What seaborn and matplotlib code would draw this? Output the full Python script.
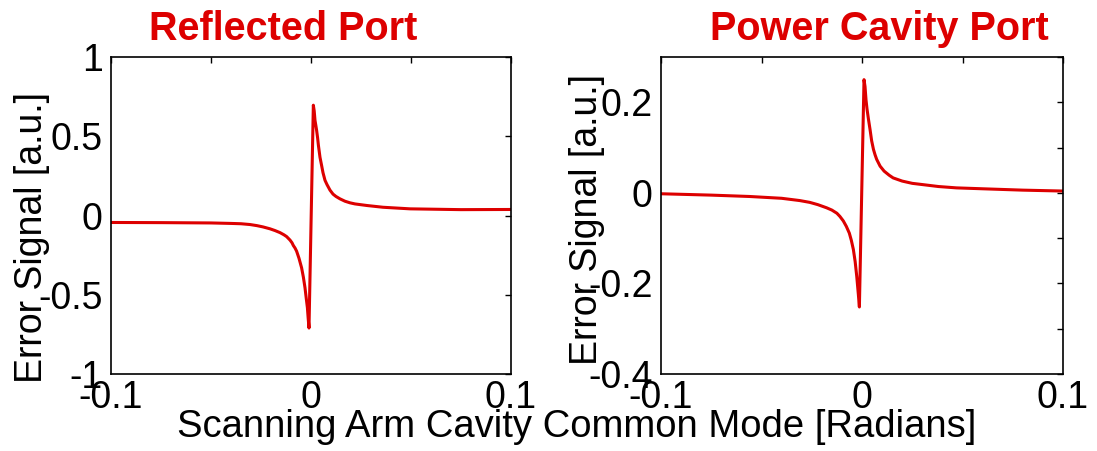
import matplotlib
matplotlib.use("Agg")
import matplotlib.pyplot as plt
import seaborn as sns
import pandas as pd

# ---- data ----
refl_x = [-0.1, -0.075, -0.05, -0.04, -0.035, -0.0305, -0.027, -0.024, -0.0205, -0.018,
          -0.0155, -0.0135, -0.0122, -0.0105, -0.0095, -0.0088, -0.008, -0.0072, -0.006,
          -0.0047, -0.0038, -0.003, -0.0024, -0.0018, -0.0014, -0.001,
          0.00117, 0.0016, 0.002, 0.0024, 0.0028, 0.0033, 0.0037, 0.0045, 0.0053, 0.006,
          0.007, 0.008, 0.0095, 0.011, 0.0125, 0.0145, 0.017, 0.0195, 0.022, 0.028,
          0.036, 0.0495, 0.075, 0.1]
refl_y = [-0.044, -0.045, -0.047, -0.05, -0.052, -0.057, -0.064, -0.072, -0.084, -0.095,
          -0.108, -0.122, -0.133, -0.155, -0.172, -0.19, -0.205, -0.225, -0.27,
          -0.33, -0.39, -0.456, -0.52, -0.582, -0.65, -0.71,
          0.696, 0.66, 0.60, 0.57, 0.538, 0.49, 0.443, 0.367, 0.316, 0.27,
          0.222, 0.195, 0.16, 0.135, 0.12, 0.105, 0.09, 0.08, 0.073, 0.063,
          0.052, 0.042, 0.037, 0.038]

pow_x = [-0.1, -0.075, -0.056, -0.04, -0.031, -0.026, -0.022, -0.0176, -0.015, -0.0125,
         -0.011, -0.0093, -0.0078, -0.0063, -0.0053, -0.0043, -0.0034, -0.0026, -0.0018,
         -0.0013, 0.001, 0.0015, 0.002, 0.0025, 0.0032, 0.004, 0.0048, 0.0057, 0.0065,
         0.0073, 0.009, 0.011, 0.0135, 0.0155, 0.02, 0.025, 0.0306, 0.038, 0.047, 0.06,
         0.08, 0.1]
pow_y = [-0.002, -0.005, -0.008, -0.012, -0.017, -0.021, -0.026, -0.033, -0.038, -0.045,
         -0.052, -0.062, -0.074, -0.089, -0.105, -0.125, -0.152, -0.185, -0.225,
         -0.252, 0.250, 0.235, 0.205, 0.185, 0.163, 0.14, 0.115, 0.096, 0.084,
         0.074, 0.059, 0.048, 0.039, 0.033, 0.026, 0.021, 0.018, 0.014, 0.011, 0.009,
         0.006, 0.004]

titles = ["Reflected Port", "Power Cavity Port"]
ylabel = "Error Signal [a.u.]"
xlabel = "Scanning Arm Cavity Common Mode [Radians]"
x_ticks = [-0.1, -0.05, 0, 0.05, 0.1]
x_ticklabels = ["-0.1", "", "0", "", "0.1"]
refl_yticks = [-1, -0.5, 0, 0.5, 1]
refl_yticklabels = ["-1", "-0.5", "0", "0.5", "1"]
pow_yticks = [-0.4, -0.3, -0.2, -0.1, 0, 0.1, 0.2, 0.3]
pow_yticklabels = ["-0.4", "", "-0.2", "", "0", "", "0.2", ""]

sns.set_style("white")
plt.rcParams['font.family'] = ['Liberation Sans', 'DejaVu Sans']
plt.rcParams['text.color'] = 'black'
plt.rcParams['axes.labelcolor'] = 'black'

red = "#DD0000"
W, H = 1097, 451
fig = plt.figure(figsize=(W / 100, H / 100), dpi=100)
ax1 = fig.add_axes([111 / W, (H - 374) / H, 400 / W, 317 / H])
ax2 = fig.add_axes([661 / W, (H - 374) / H, 402 / W, 317 / H])

df1 = pd.DataFrame({"x": refl_x, "y": refl_y})
df2 = pd.DataFrame({"x": pow_x, "y": pow_y})
sns.lineplot(data=df1, x="x", y="y", ax=ax1, color=red, linewidth=2.2, sort=False)
sns.lineplot(data=df2, x="x", y="y", ax=ax2, color=red, linewidth=2.2, sort=False)

fs = 27
for ax, yt, ytl, ylim, lab_xy in [
    (ax1, refl_yticks, refl_yticklabels, (-1, 1), (-0.153, 0.43)),
    (ax2, pow_yticks, pow_yticklabels, (-0.4, 0.3), (-0.139, 0.486)),
]:
    ax.set_xlim(-0.1, 0.1)
    ax.set_ylim(*ylim)
    ax.set_xticks(x_ticks)
    ax.set_xticklabels(x_ticklabels)
    ax.set_yticks(yt)
    ax.set_yticklabels(ytl)
    ax.tick_params(direction="in", top=True, right=True, length=4, width=1,
                   labelsize=fs, pad=6, colors="black")
    ax.tick_params(axis="x", pad=4)
    for s in ax.spines.values():
        s.set_visible(True)
        s.set_color("black")
        s.set_linewidth(1.2)
    ax.set_xlabel("")
    ax.set_ylabel(ylabel, fontsize=fs)
    ax.yaxis.set_label_coords(*lab_xy)

fig.text(283 / W, (H - 40) / H, titles[0], color=red, fontsize=28.5,
         fontweight="bold", ha="center", va="baseline")
fig.text(879 / W, (H - 40) / H, titles[1], color=red, fontsize=28.5,
         fontweight="bold", ha="center", va="baseline")

fig.text(577 / W, (H - 427) / H, xlabel, ha="center", va="center", fontsize=27.5)

fig.savefig("out.png", dpi=100, facecolor="white")
